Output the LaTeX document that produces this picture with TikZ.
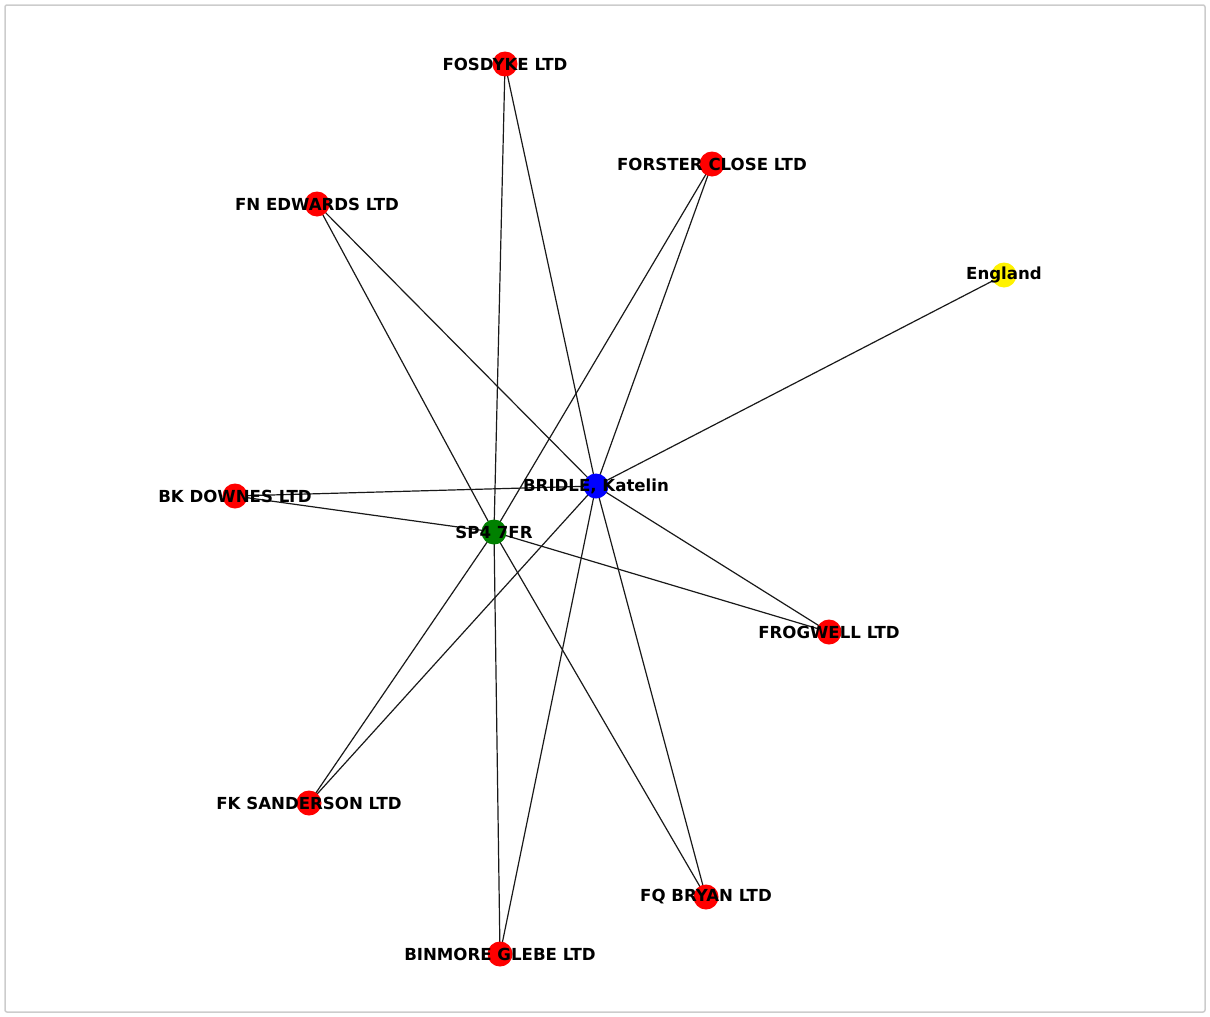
\documentclass[tikz,border=0pt]{standalone}
\usepackage{fontspec}
\setmainfont{DejaVu Sans}
\usetikzlibrary{backgrounds}
\definecolor{mplgreen}{RGB}{0,128,0}
\begin{document}
\begin{tikzpicture}[
  x=1pt, y=-1pt,
  font=\fontsize{16.6}{16.6}\selectfont\bfseries,
  vert/.style={circle,minimum size=25pt,inner sep=0pt},
  firm/.style={vert,fill=red},
  person/.style={vert,fill=blue},
  postcode/.style={vert,fill=mplgreen},
  country/.style={vert,fill=yellow},
  tag/.style={label={[inner sep=0pt]center:#1}},
  link/.style={draw,black!90,line width=1.2pt},
  frame/.style={draw,black!20,line width=1.5pt,rounded corners=2pt}]
\useasboundingbox (0,0) rectangle (1210,1017);
% vertices
\node[person,tag={BRIDLE, Katelin}] (bridle) at (596,486) {};
\node[postcode,tag={SP4 7FR}] (sp4) at (494,532) {};
\node[country,tag={England}] (england) at (1004,275) {};
\node[firm,tag={FOSDYKE LTD}] (fosdyke) at (505,64) {};
\node[firm,tag={FORSTER CLOSE LTD}] (forster) at (712,164) {};
\node[firm,tag={FN EDWARDS LTD}] (edwards) at (317,204) {};
\node[firm,tag={BK DOWNES LTD}] (downes) at (235,496) {};
\node[firm,tag={FROGWELL LTD}] (frogwell) at (829,632) {};
\node[firm,tag={FK SANDERSON LTD}] (sanderson) at (309,803) {};
\node[firm,tag={FQ BRYAN LTD}] (bryan) at (706,897) {};
\node[firm,tag={BINMORE GLEBE LTD}] (binmore) at (500,954) {};
% edges behind the vertices
\begin{pgfonlayer}{background}
  \draw[frame] (5,5) rectangle (1205,1012);
  \foreach \f in {fosdyke,forster,edwards,downes,frogwell,sanderson,bryan,binmore} {
    \draw[link] (bridle.center) -- (\f.center);
    \draw[link] (sp4.center) -- (\f.center);
  }
  \draw[link] (bridle.center) -- (england.center);
\end{pgfonlayer}
\end{tikzpicture}
\end{document}
